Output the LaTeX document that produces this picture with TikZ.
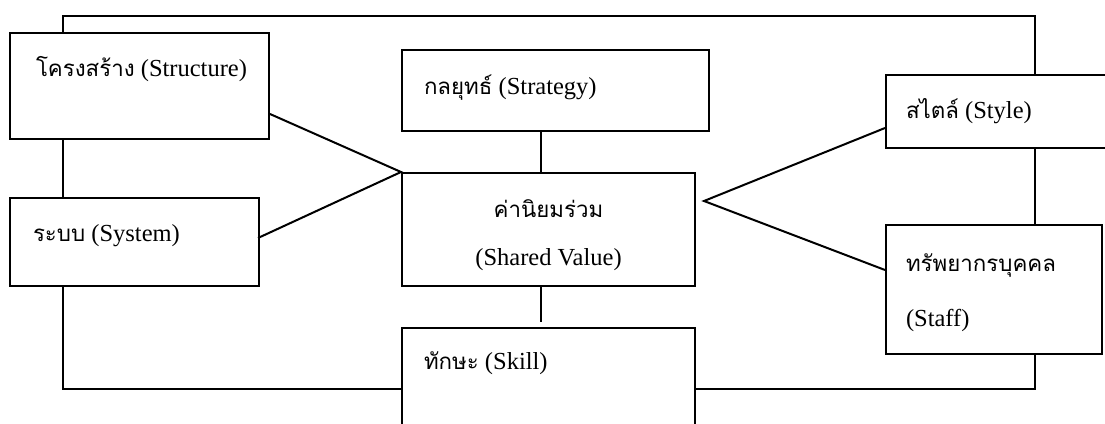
\documentclass[tikz,border=0pt]{standalone}
\usepackage{fontspec}
\setmainfont{Liberation Serif}
\newfontfamily\thaifont[Script=Thai,Scale=0.91]{Loma}
\usetikzlibrary{calc}
\tikzset{
  box/.style={draw, fill=white, inner sep=0pt, anchor=north west},
  txt/.style={anchor=base west, inner sep=0pt, font=\fontsize{24.5}{30}\selectfont},
}
\begin{document}
\begin{tikzpicture}[x=1pt,y=1pt,line width=2pt]
	\useasboundingbox (0,0) rectangle (1105,423);
	\clip (0,0) rectangle (1105,423);
	% outer loop, the boxes sit on top of it
	\draw (63,34) rectangle (1035,407);
	% the seven boxes
	\node[box, minimum width=259, minimum height=106] (structure) at (9,391) {};
	\node[box, minimum width=249, minimum height=88] (system) at (9,226) {};
	\node[box, minimum width=307, minimum height=81] (strategy) at (401,374) {};
	\node[box, minimum width=293, minimum height=113] (shared) at (401,251) {};
	\node[box, minimum width=293, minimum height=140] (skill) at (401,96) {};
	\node[box, minimum width=240, minimum height=73] (style) at (885,349) {};
	\node[box, minimum width=216, minimum height=129] (staff) at (885,199) {};
	% texts
	\node[txt] (structure-t) at ([shift={(26,-45)}]structure.north west) {{\thaifont โครงสร้าง} (Structure)};
	\node[txt] (system-t) at ([shift={(23,-45)}]system.north west) {{\thaifont ระบบ} (System)};
	\node[txt] (strategy-t) at ([shift={(22,-46)}]strategy.north west) {{\thaifont กลยุทธ์} (Strategy)};
	\node[txt, anchor=base] (shared-t) at ([yshift=-46]shared.north) {\thaifont ค่านิยมร่วม};
	\node[txt, anchor=base] (shared-t2) at ([yshift=-94]shared.north) {(Shared Value)};
	\node[txt] (skill-t) at ([shift={(22,-43)}]skill.north west) {{\thaifont ทักษะ} (Skill)};
	\node[txt] (style-t) at ([shift={(20,-45)}]style.north west) {{\thaifont สไตล์} (Style)};
	\node[txt] (staff-t) at ([shift={(20,-48)}]staff.north west) {\thaifont ทรัพยากรบุคคล};
	\node[txt] (staff-t2) at ([shift={(20,-103)}]staff.north west) {(Staff)};
	% links
	\coordinate (rapex) at ($(shared.north east)+(8,-29)$);
	\draw ($(structure.south east)+(0,26)$) -- (shared.north west) -- ($(system.east)+(-2,4)$);
	\draw ($(style.south west)+(0,21)$) -- (rapex) -- ($(staff.north west)+(0,-46)$);
	\draw ([xshift=-8pt]shared.north) -- ([xshift=-8pt]shared.north |- strategy.south);
	\draw ([xshift=-8pt]shared.south) -- ([xshift=-8pt,yshift=5pt]shared.south |- skill.north);
\end{tikzpicture}
\end{document}
